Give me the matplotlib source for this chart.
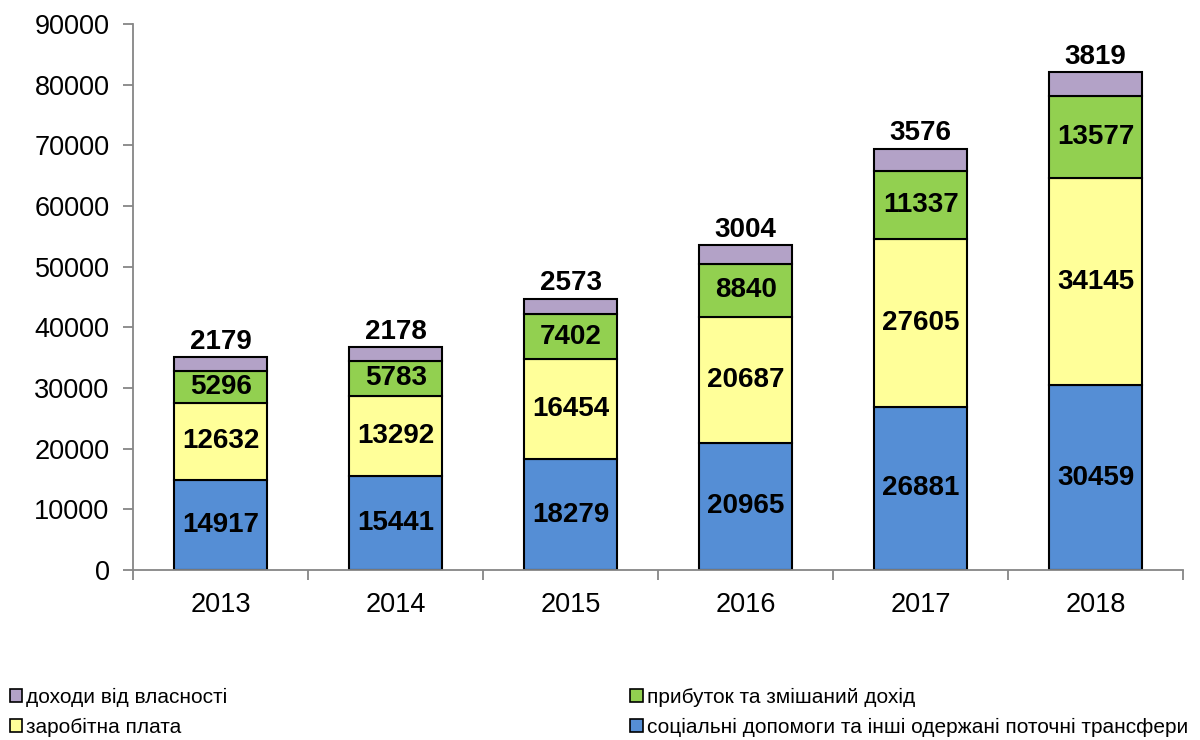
import matplotlib.pyplot as plt
import numpy as np
from matplotlib.patches import Patch

plt.rcParams['font.family'] = ['Liberation Sans', 'DejaVu Sans']

years = ['2013', '2014', '2015', '2016', '2017', '2018']
social = [14917, 15441, 18279, 20965, 26881, 30459]
wages = [12632, 13292, 16454, 20687, 27605, 34145]
profit = [5296, 5783, 7402, 8840, 11337, 13577]
property_inc = [2179, 2178, 2573, 3004, 3576, 3819]

series = [
    ('соціальні допомоги та інші одержані поточні трансфери', social, '#558ED5'),
    ('заробітна плата', wages, '#FFFF99'),
    ('прибуток та змішаний дохід', profit, '#92D050'),
    ('доходи від власності', property_inc, '#B3A2C7'),
]

fig = plt.figure(figsize=(12, 7.4), dpi=100)
ax = fig.add_axes([0.111, 0.2297, 0.875, 0.738])

x = np.arange(len(years))
bottom = np.zeros(len(years))
for i, (name, vals, col) in enumerate(series):
    vals = np.array(vals, dtype=float)
    ax.bar(x, vals, 0.53, bottom=bottom, color=col, edgecolor='black', linewidth=1.5)
    for xi, b, v in zip(x, bottom, vals):
        if i < 3:
            ax.text(xi, b + v / 2, f'{int(v)}', ha='center', va='center',
                    fontsize=20, fontweight='bold')
        else:
            ax.text(xi, b + v + 400, f'{int(v)}', ha='center', va='bottom',
                    fontsize=20, fontweight='bold')
    bottom += vals

ax.set_xlim(-0.5, len(years) - 0.5)
ax.set_ylim(0, 90000)
ax.set_yticks(np.arange(0, 90001, 10000))
ax.set_xticks(x)
ax.set_xticklabels(years)
ax.set_xticks(np.arange(-0.5, len(years), 1), minor=True)
ax.tick_params(axis='x', which='major', length=0, labelsize=19.5, pad=16)
ax.tick_params(axis='x', which='minor', length=7, color='#868686', width=1.3)
ax.tick_params(axis='y', length=7, color='#868686', width=1.3, labelsize=19.5, pad=10)
for s in ['top', 'right']:
    ax.spines[s].set_visible(False)
for s in ['left', 'bottom']:
    ax.spines[s].set_color('#868686')
    ax.spines[s].set_linewidth(1.3)

def handle(col):
    return Patch(facecolor=col, edgecolor='black', linewidth=1.2)

leg_kw = dict(frameon=False, fontsize=15, handlelength=0.6, handleheight=0.6,
              handletextpad=0.2, labelspacing=0.55, borderpad=0, borderaxespad=0)
fig.legend([handle(series[3][2]), handle(series[1][2])],
           [series[3][0], series[1][0]], loc='upper left',
           bbox_to_anchor=(0.008, 0.071), **leg_kw)
fig.legend([handle(series[2][2]), handle(series[0][2])],
           [series[2][0], series[0][0]], loc='upper left',
           bbox_to_anchor=(0.525, 0.071), **leg_kw)

fig.savefig('out.png', dpi=100)
